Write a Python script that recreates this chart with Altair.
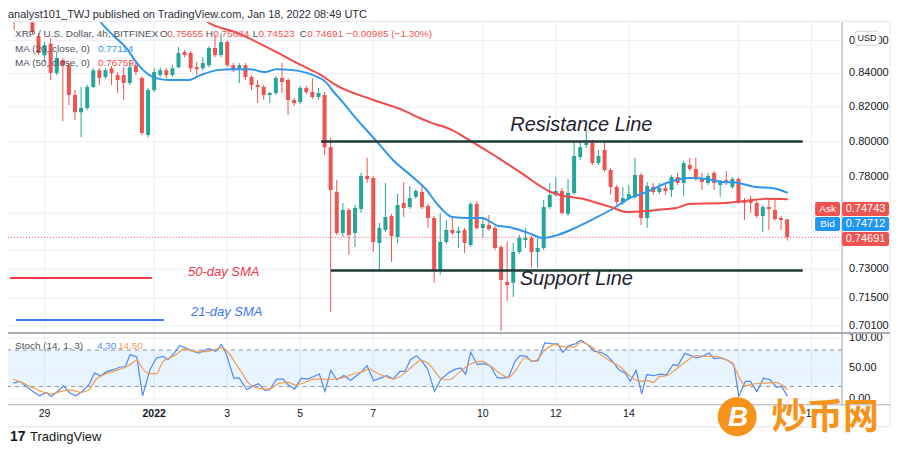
import altair as alt
import pandas as pd

FONT = "Liberation Sans"
W = 835          # plot width (price pane and stoch pane)
H_MAIN = 311     # price pane height
H = 383          # both panes

UP = "#26a69a"
DOWN = "#ef5350"
GRID = "#eceff5"
BLUE_MA = "#2f96ee"
RED_MA = "#f24a4a"

# ---------------- data (4h candles, XRP/USD Bitfinex, first = Dec 28 04:00 UTC) --------------
opens = [0.8850, 0.8740, 0.8820, 0.8760, 0.8628, 0.8510, 0.8580, 0.8402, 0.8481, 0.8450,
         0.8271, 0.8170, 0.8194, 0.8319, 0.8420, 0.8378, 0.8432, 0.8390, 0.8390, 0.8342,
         0.8450, 0.8372, 0.8037, 0.8301, 0.8390, 0.8420, 0.8390, 0.8438, 0.8530, 0.8524,
         0.8438, 0.8432, 0.8450, 0.8554, 0.8512, 0.8591, 0.8450, 0.8432, 0.8450, 0.8378,
         0.8331, 0.8319, 0.8271, 0.8283, 0.8372, 0.8360, 0.8242, 0.8230, 0.8313, 0.8289,
         0.8259, 0.8271, 0.7968, 0.7716, 0.7493, 0.7617, 0.7493, 0.7622, 0.7805, 0.7794,
         0.7439, 0.7509, 0.7585, 0.7471, 0.7655, 0.7634, 0.7689, 0.7716, 0.7639, 0.7574,
         0.7297, 0.7444, 0.7509, 0.7493, 0.7509, 0.7429, 0.7650, 0.7520, 0.7536, 0.7520,
         0.7418, 0.7235, 0.7230, 0.7391, 0.7455, 0.7466, 0.7391, 0.7413, 0.7634, 0.7700,
         0.7722, 0.7596, 0.7711, 0.7912, 0.7980, 0.7991, 0.7878, 0.7951, 0.7838, 0.7744,
         0.7655, 0.7678, 0.7689, 0.7810, 0.7574, 0.7744, 0.7716, 0.7738, 0.7727, 0.7799,
         0.7766, 0.7866, 0.7844, 0.7788, 0.7766, 0.7822, 0.7755, 0.7783, 0.7744, 0.7788,
         0.7672, 0.7666, 0.7655, 0.7585, 0.7634, 0.7617, 0.7574, 0.75655]
highs = [0.8890, 0.8860, 0.8840, 0.8790, 0.8646, 0.8591, 0.8615, 0.8530, 0.8493, 0.8463,
         0.8301, 0.8319, 0.8331, 0.8432, 0.8432, 0.8432, 0.8444, 0.8408, 0.8438, 0.8481,
         0.8469, 0.8384, 0.8313, 0.8432, 0.8438, 0.8432, 0.8450, 0.8560, 0.8542, 0.8536,
         0.8469, 0.8499, 0.8566, 0.8634, 0.8646, 0.8603, 0.8463, 0.8463, 0.8463, 0.8390,
         0.8360, 0.8331, 0.8289, 0.8384, 0.8463, 0.8372, 0.8254, 0.8325, 0.8325, 0.8372,
         0.8313, 0.8289, 0.8020, 0.7783, 0.7655, 0.7628, 0.7645, 0.7822, 0.7907, 0.7805,
         0.7547, 0.7766, 0.7596, 0.7705, 0.7772, 0.7749, 0.7732, 0.7760, 0.7650, 0.7585,
         0.7601, 0.7563, 0.7574, 0.7525, 0.7520, 0.7661, 0.7666, 0.7574, 0.7590, 0.7530,
         0.7429, 0.7445, 0.7439, 0.7482, 0.7520, 0.7477, 0.7466, 0.7672, 0.7766, 0.7799,
         0.7738, 0.7788, 0.7997, 0.8003, 0.8066, 0.8009, 0.7951, 0.8003, 0.7850, 0.7755,
         0.7744, 0.7755, 0.7907, 0.7822, 0.7772, 0.7766, 0.7766, 0.7766, 0.7810, 0.7822,
         0.7890, 0.7907, 0.7907, 0.7822, 0.7822, 0.7833, 0.7783, 0.7833, 0.7799, 0.7799,
         0.7683, 0.7694, 0.7666, 0.7645, 0.7683, 0.7683, 0.7585, 0.75684]
lows = [0.8665, 0.8710, 0.8720, 0.8640, 0.8512, 0.8469, 0.8360, 0.8390, 0.8118, 0.8212,
        0.8124, 0.8026, 0.8182, 0.8313, 0.8331, 0.8366, 0.8331, 0.8283, 0.8242, 0.8331,
        0.8390, 0.8037, 0.8026, 0.8289, 0.8378, 0.8372, 0.8378, 0.8432, 0.8499, 0.8408,
        0.8390, 0.8420, 0.8438, 0.8499, 0.8499, 0.8438, 0.8408, 0.8342, 0.8360, 0.8301,
        0.8224, 0.8242, 0.8224, 0.8271, 0.8283, 0.8153, 0.8206, 0.8218, 0.8277, 0.8248,
        0.8242, 0.7923, 0.7081, 0.7482, 0.7471, 0.7376, 0.7418, 0.7601, 0.7766, 0.7391,
        0.7287, 0.7498, 0.7339, 0.7439, 0.7579, 0.7622, 0.7678, 0.7622, 0.7520, 0.7230,
        0.7271, 0.7434, 0.7482, 0.7413, 0.7386, 0.7418, 0.7509, 0.7471, 0.7504, 0.7402,
        0.6985, 0.7137, 0.7157, 0.7381, 0.7413, 0.7308, 0.7308, 0.7402, 0.7622, 0.7689,
        0.7590, 0.7585, 0.7700, 0.7895, 0.7963, 0.7866, 0.7866, 0.7827, 0.7700, 0.7645,
        0.7645, 0.7672, 0.7678, 0.7536, 0.7520, 0.7700, 0.7705, 0.7700, 0.7689, 0.7755,
        0.7694, 0.7833, 0.7777, 0.7727, 0.7755, 0.7727, 0.7689, 0.7755, 0.7733, 0.7650,
        0.7563, 0.7601, 0.7574, 0.7498, 0.7509, 0.7558, 0.7509, 0.74523]
closes = [0.8740, 0.8820, 0.8760, 0.8653, 0.8524, 0.8572, 0.8402, 0.8493, 0.8450, 0.8271,
          0.8170, 0.8194, 0.8319, 0.8420, 0.8372, 0.8420, 0.8402, 0.8360, 0.8342, 0.8438,
          0.8408, 0.8049, 0.8301, 0.8408, 0.8420, 0.8390, 0.8432, 0.8524, 0.8512, 0.8432,
          0.8426, 0.8463, 0.8554, 0.8512, 0.8591, 0.8450, 0.8420, 0.8450, 0.8378, 0.8331,
          0.8319, 0.8271, 0.8283, 0.8372, 0.8348, 0.8242, 0.8224, 0.8313, 0.8289, 0.8259,
          0.8283, 0.7968, 0.7727, 0.7493, 0.7617, 0.7482, 0.7628, 0.7805, 0.7788, 0.7444,
          0.7520, 0.7579, 0.7477, 0.7645, 0.7628, 0.7683, 0.7722, 0.7634, 0.7574, 0.7297,
          0.7444, 0.7509, 0.7493, 0.7504, 0.7439, 0.7650, 0.7520, 0.7541, 0.7514, 0.7413,
          0.7245, 0.7219, 0.7391, 0.7466, 0.7466, 0.7391, 0.7413, 0.7634, 0.7700, 0.7722,
          0.7601, 0.7711, 0.7918, 0.7968, 0.7991, 0.7878, 0.7918, 0.7838, 0.7744, 0.7661,
          0.7683, 0.7705, 0.7810, 0.7574, 0.7749, 0.7716, 0.7738, 0.7722, 0.7799, 0.7766,
          0.7878, 0.7844, 0.7788, 0.7772, 0.7805, 0.7766, 0.7772, 0.7766, 0.7788, 0.7661,
          0.7655, 0.7655, 0.7585, 0.7634, 0.7623, 0.7568, 0.7563, 0.74691]

# moving averages: (days since Dec 29 00:00, value)
ma20 = [(1.30, 0.8800), (1.54, 0.8714), (1.89, 0.8630), (2.24, 0.8554), (2.51, 0.8468),
        (2.70, 0.8420), (3.05, 0.8372), (3.43, 0.8360), (3.92, 0.8360), (4.27, 0.8390),
        (4.73, 0.8420), (5.19, 0.8426), (5.62, 0.8426), (6.03, 0.8408), (6.35, 0.8426),
        (6.81, 0.8420), (7.35, 0.8390), (7.70, 0.8348), (7.92, 0.8289), (8.11, 0.8242),
        (8.57, 0.8124), (9.11, 0.7997), (9.54, 0.7895), (10.08, 0.7799), (10.46, 0.7727),
        (10.73, 0.7655), (11.16, 0.7579), (11.62, 0.7574), (11.97, 0.7574), (12.43, 0.7530),
        (12.70, 0.7525), (13.24, 0.7493), (13.65, 0.7466), (14.05, 0.7482), (14.59, 0.7525),
        (15.14, 0.7579), (15.59, 0.7628), (16.03, 0.7683), (16.49, 0.7716), (17.03, 0.7766),
        (17.65, 0.7794), (18.11, 0.7788), (18.57, 0.7772), (19.00, 0.7766), (19.46, 0.7744),
        (19.92, 0.7738), (20.35, 0.77114)]
ma50 = [(4.00, 0.8800), (4.51, 0.8708), (5.22, 0.8652), (6.14, 0.8554), (7.03, 0.8450),
        (7.57, 0.8390), (7.97, 0.8331), (9.00, 0.8242), (9.81, 0.8182), (10.27, 0.8136),
        (10.54, 0.8112), (11.16, 0.8066), (11.62, 0.8009), (12.08, 0.7951), (12.43, 0.7906),
        (13.05, 0.7822), (13.86, 0.7716), (14.86, 0.7672), (15.49, 0.7634), (15.95, 0.7606),
        (16.49, 0.7612), (17.03, 0.7623), (17.30, 0.7628), (17.65, 0.7650), (18.57, 0.7655),
        (19.19, 0.7666), (19.73, 0.7678), (20.35, 0.76759)]

stoch_k = [(-0.856, 25.8), (-0.676, 28.6), (-0.495, 20.3), (-0.315, 12.1), (-0.135, 4.9),
           (0.045, 10.4), (0.18, 3.8), (0.36, 12.1), (0.523, 21.4), (0.676, 10.4), (0.856, 4.9),
           (1.036, 12.1), (1.216, 23.1), (1.369, 42.3), (1.532, 37.9), (1.712, 45.0), (1.892, 47.8),
           (2.072, 52.2), (2.207, 52.2), (2.342, 72.5), (2.523, 68.6), (2.685, 4.9), (2.883, 47.8),
           (3.063, 67.0), (3.243, 69.7), (3.378, 64.3), (3.559, 75.2), (3.694, 87.3), (3.874, 83.5),
           (4.054, 78.0), (4.234, 75.2), (4.369, 79.6), (4.505, 82.4), (4.685, 78.0), (4.847, 89.0),
           (4.973, 74.1), (5.18, 34.0), (5.333, 34.0), (5.541, 14.8), (5.721, 21.4), (5.856, 24.7),
           (6.036, 13.7), (6.171, 14.8), (6.351, 32.4), (6.532, 32.4), (6.667, 23.1), (6.847, 15.9),
           (7.027, 34.0), (7.207, 32.4), (7.342, 35.7), (7.523, 40.6), (7.676, 12.1), (7.838, 46.7),
           (8.0, 31.3), (8.198, 38.4), (8.378, 30.2), (8.541, 37.9), (8.694, 45.0), (8.829, 54.4),
           (9.009, 29.7), (9.189, 34.0), (9.369, 37.9), (9.55, 32.4), (9.73, 45.0), (9.865, 45.0),
           (10.018, 64.3), (10.18, 70.8), (10.342, 61.5), (10.495, 47.8), (10.676, 12.1),
           (10.856, 32.4), (11.081, 43.4), (11.216, 47.8), (11.396, 50.5), (11.532, 40.6),
           (11.667, 76.3), (11.847, 56.0), (12.027, 57.7), (12.207, 54.4), (12.387, 35.1),
           (12.523, 34.0), (12.703, 35.1), (12.883, 61.5), (13.018, 70.8), (13.198, 69.7),
           (13.333, 61.5), (13.514, 62.6), (13.694, 91.7), (13.874, 90.6), (14.054, 90.1),
           (14.189, 76.3), (14.369, 87.3), (14.55, 90.6), (14.685, 96.1), (14.865, 89.0),
           (15.045, 78.0), (15.225, 76.3), (15.405, 70.8), (15.586, 58.8), (15.721, 47.8),
           (15.901, 42.3), (16.036, 28.6), (16.198, 46.7), (16.351, 8.2), (16.486, 39.5),
           (16.667, 37.9), (16.847, 40.6), (17.027, 39.5), (17.207, 56.0), (17.342, 54.4),
           (17.523, 74.1), (17.703, 70.8), (17.838, 67.0), (18.018, 69.7), (18.198, 75.2),
           (18.333, 65.9), (18.514, 67.0), (18.694, 63.2), (18.874, 56.0), (19.009, 3.8),
           (19.189, 28.6), (19.324, 28.6), (19.505, 12.1), (19.685, 34.0), (19.865, 31.3),
           (20.045, 19.2), (20.18, 20.3), (20.342, 4.3)]
stoch_d = [(-0.856, 32.4), (-0.631, 26.9), (-0.36, 19.2), (-0.09, 12.1), (0.18, 8.2), (0.45, 12.1),
           (0.721, 14.8), (0.991, 10.4), (1.216, 14.8), (1.396, 31.3), (1.622, 39.5), (1.892, 45.0),
           (2.162, 50.5), (2.342, 56.0), (2.523, 63.2), (2.703, 47.8), (2.883, 41.2), (3.063, 41.2),
           (3.243, 61.5), (3.423, 67.0), (3.604, 72.5), (3.829, 81.8), (4.054, 78.0), (4.324, 76.9),
           (4.595, 79.6), (4.865, 83.5), (5.045, 75.2), (5.225, 58.8), (5.405, 42.3), (5.586, 25.8),
           (5.766, 19.2), (6.036, 15.9), (6.216, 17.6), (6.441, 25.8), (6.667, 26.9), (6.847, 23.1),
           (7.027, 24.7), (7.207, 28.6), (7.387, 32.4), (7.568, 32.4), (7.748, 31.3), (7.928, 32.4),
           (8.198, 35.1), (8.468, 41.2), (8.739, 45.0), (8.874, 48.9), (9.099, 42.3), (9.369, 35.7),
           (9.55, 32.4), (9.865, 42.3), (10.09, 54.4), (10.315, 63.2), (10.541, 56.0),
           (10.721, 42.3), (10.901, 31.3), (11.081, 31.3), (11.351, 43.4), (11.622, 56.0),
           (11.982, 61.5), (12.252, 51.6), (12.523, 39.5), (12.703, 35.1), (12.883, 45.0),
           (13.153, 67.0), (13.423, 61.5), (13.694, 79.6), (13.964, 89.0), (14.234, 85.1),
           (14.505, 85.1), (14.685, 92.8), (14.955, 86.2), (15.225, 72.5), (15.495, 61.5),
           (15.766, 52.2), (16.036, 36.8), (16.306, 28.6), (16.486, 30.2), (16.667, 26.9),
           (16.847, 36.8), (17.027, 37.9), (17.297, 48.9), (17.568, 61.5), (17.838, 70.8),
           (18.108, 69.7), (18.378, 69.7), (18.649, 64.3), (18.829, 58.8), (19.009, 36.8),
           (19.189, 21.4), (19.459, 24.7), (19.73, 25.8), (20.0, 26.9), (20.18, 23.1), (20.342, 14.5)]

# axes / ticks
price_grid_values = [0.701, 0.715, 0.73, 0.74, 0.76, 0.78, 0.80, 0.82, 0.84, 0.86]
price_label_values = [0.701, 0.715, 0.73, 0.78, 0.80, 0.82, 0.84, 0.86]
time_tick_days = [0, 3, 5, 7, 9, 12, 14, 16, 19, 21]
time_tick_labels = ["29", "2022", "3", "5", "7", "10", "12", "14", "17", "19"]
stoch_ticks = [0, 50, 100]
stoch_tick_labels = ["0.00", "50.00", "100.00"]
resistance = 0.800
support = 0.7294
line_span = [(7.57, 20.76), (7.84, 20.76)]   # resistance, support (days)
ask, bid = 0.74743, 0.74712

# ---------------- scales ----------------
xs = alt.Scale(domain=[-0.865, 21.70], nice=False, zero=False)
ps = alt.Scale(type="log", domain=[0.6975, 0.8714], range=[H_MAIN, 0], nice=False)
ss = alt.Scale(domain=[-9.84, 108.2], range=[H, H_MAIN], nice=False, zero=False)


def X(f):
    return alt.X(f, type="quantitative", scale=xs, axis=None)


def PY(f):
    return alt.Y(f, type="quantitative", scale=ps, axis=None)


def SY(f):
    return alt.Y(f, type="quantitative", scale=ss, axis=None)


one = alt.Data(values=[{"a": 1}])


def txt(s, x, y, color="#131722", size=10, weight="normal", style="normal",
        align="left", font=FONT):
    return alt.Chart(one).mark_text(text=s, align=align, baseline="middle", fontSize=size,
                                    fontWeight=weight, fontStyle=style, color=color,
                                    font=font).encode(x=alt.value(x), y=alt.value(y))


def box(x, x2, y, y2, fill, stroke=None, radius=0):
    kw = dict(fill=fill, cornerRadius=radius)
    if stroke:
        kw["stroke"] = stroke
        kw["strokeWidth"] = 1
    return alt.Chart(one).mark_rect(**kw).encode(
        x=alt.value(x), x2=alt.value(x2), y=alt.value(y), y2=alt.value(y2))


def line(x, x2, y, y2, color, width=1, dash=None):
    kw = dict(color=color, strokeWidth=width)
    if dash:
        kw["strokeDash"] = dash
    return alt.Chart(one).mark_rule(**kw).encode(
        x=alt.value(x), x2=alt.value(x2), y=alt.value(y), y2=alt.value(y2))


# ---------------- price pane ----------------
n = len(opens)
candles = pd.DataFrame({
    "day": [k / 6 - 5 / 6 for k in range(n)],
    "open": opens, "high": highs, "low": lows, "close": closes,
})
candles["dir"] = ["up" if c >= o else "down" for o, c in zip(opens, closes)]
dir_color = alt.Color("dir:N", scale=alt.Scale(domain=["up", "down"], range=[UP, DOWN]), legend=None)

price_grid = alt.Chart(pd.DataFrame({"p": price_grid_values})).mark_rule(
    color=GRID, strokeWidth=1).encode(y=PY("p"))
time_grid = alt.Chart(pd.DataFrame({"d": time_tick_days})).mark_rule(
    color=GRID, strokeWidth=1).encode(x=X("d"))
close_line = alt.Chart(pd.DataFrame({"p": [closes[-1]]})).mark_rule(
    color=DOWN, strokeDash=[1, 2], strokeWidth=1).encode(y=PY("p"))
wicks = alt.Chart(candles).mark_rule(strokeWidth=1, clip=True).encode(
    x=X("day"), y=PY("low"), y2="high", color=dir_color)
bodies = alt.Chart(candles).mark_bar(size=4, clip=True).encode(
    x=X("day"), y=PY("open"), y2="close", color=dir_color)
ma20_line = alt.Chart(pd.DataFrame(ma20, columns=["d", "v"])).mark_line(
    color=BLUE_MA, strokeWidth=2, clip=True, interpolate="monotone").encode(x=X("d"), y=PY("v"))
ma50_line = alt.Chart(pd.DataFrame(ma50, columns=["d", "v"])).mark_line(
    color=RED_MA, strokeWidth=2, clip=True, interpolate="monotone").encode(x=X("d"), y=PY("v"))
sr = alt.Chart(pd.DataFrame({
    "a": [s[0] for s in line_span], "b": [s[1] for s in line_span], "p": [resistance, support]
})).mark_rule(color="#1f3b36", strokeWidth=2.5).encode(x=X("a"), x2="b", y=PY("p"))
price_labels = alt.Chart(pd.DataFrame({
    "p": price_label_values, "t": [f"{v:.5f}" for v in price_label_values]
})).mark_text(align="left", baseline="middle", fontSize=11, font=FONT, color="#131722").encode(
    x=alt.value(842), y=PY("p"), text="t:N")

tl = pd.DataFrame({"d": time_tick_days, "t": time_tick_labels})
time_labels = alt.Chart(tl).transform_filter("datum.t != '2022'").mark_text(
    align="center", baseline="middle", fontSize=10.5, font=FONT, color="#131722").encode(
    x=X("d"), y=alt.value(392), text="t:N")
time_labels_b = alt.Chart(tl).transform_filter("datum.t == '2022'").mark_text(
    align="center", baseline="middle", fontSize=10.5, font=FONT, fontWeight="bold",
    color="#131722").encode(x=X("d"), y=alt.value(392), text="t:N")

price_layer = alt.layer(price_grid, time_grid, close_line, wicks, bodies, ma20_line, ma50_line,
                        sr, price_labels, time_labels, time_labels_b)

# ---------------- stochastic pane ----------------
band = alt.Chart(pd.DataFrame({"lo": [20], "hi": [80]})).mark_rect(
    fill="#2196f3", opacity=0.1).encode(x=alt.value(0), x2=alt.value(W), y=SY("lo"), y2="hi")
s_grid = alt.Chart(pd.DataFrame({"v": stoch_ticks})).mark_rule(color=GRID).encode(y=SY("v"))
s_dash = alt.Chart(pd.DataFrame({"v": [20, 80]})).mark_rule(
    color="#8f929c", strokeDash=[4, 4], strokeWidth=1).encode(y=SY("v"))
k_line = alt.Chart(pd.DataFrame(stoch_k, columns=["d", "v"])).mark_line(
    color="#5087f5", strokeWidth=1.2, clip=True).encode(x=X("d"), y=SY("v"))
d_line = alt.Chart(pd.DataFrame(stoch_d, columns=["d", "v"])).mark_line(
    color="#f39c4f", strokeWidth=1.2, clip=True, interpolate="monotone").encode(x=X("d"), y=SY("v"))
s_labels = alt.Chart(pd.DataFrame({"v": stoch_ticks, "t": stoch_tick_labels})).mark_text(
    align="left", baseline="middle", fontSize=11, font=FONT, color="#131722").encode(
    x=alt.value(842), y=SY("v"), text="t:N")
stoch_layer = alt.layer(band, s_grid, s_dash, k_line, d_line, s_labels)

# ---------------- annotations / chrome ----------------
LG = "#50535e"
annots = [
    # frame and separators
    box(-1, 883, -1, 405, "transparent", stroke="#e0e3eb"),
    line(835, 835, 0, 383, "#a3a6af", 1),
    line(0, 883, 311, 311, "#a9acb5", 2),
    line(0, 883, 383, 383, "#a9acb5", 1),
    # title
    txt("analyst101_TWJ published on TradingView.com, Jan 18, 2022 08:49 UTC", 0, -7.5,
        color="#2a2e39", size=11),
    # legend rows
    txt("XRP / U.S. Dollar, 4h, BITFINEX", 7, 12, color=LG),
    txt("O", 152, 12, color=LG), txt("0.75655", 159.5, 12, color=DOWN),
    txt("H", 198, 12, color=LG), txt("0.75684", 205.5, 12, color=DOWN),
    txt("L", 245, 12, color=LG), txt("0.74523", 250.8, 12, color=DOWN),
    txt("C", 292, 12, color=LG), txt("0.74691", 299.5, 12, color=DOWN),
    txt("\u22120.00985 (\u22121.30%)", 339, 12, color=DOWN),
    txt("MA (20, close, 0)", 7, 27, color=LG), txt("0.77114", 90, 27, color=BLUE_MA),
    txt("MA (50, close, 0)", 7, 41, color=LG), txt("0.76759", 90, 41, color=RED_MA),
    # drawings
    txt("Resistance Line", 574, 103, color="#1e222d", size=20, style="italic", align="center"),
    txt("Support Line", 569, 257, color="#1e222d", size=20, style="italic", align="center"),
    line(2, 144, 256, 256, "#f23645", 2),
    txt("50-day SMA", 216, 250, color="#f23645", size=13, style="italic", align="center"),
    line(8, 156, 298, 298, "#3b78f0", 2),
    txt("21-day SMA", 219, 290, color="#3b78f0", size=13, style="italic", align="center"),
    # price scale badges
    box(848, 872, 9, 23, "#ffffff", stroke="#d1d4dc", radius=3),
    txt("USD", 860, 16, size=9, align="center"),
    box(808, 833, 180, 194, DOWN, radius=2), txt("Ask", 820.5, 187, color="white", align="center"),
    box(835, 882, 180, 194, DOWN, radius=2),
    txt(f"{ask:.5f}", 858.5, 187, color="white", size=11, align="center"),
    box(808, 833, 195, 209, "#2196f3", radius=2), txt("Bid", 820.5, 202, color="white", align="center"),
    box(835, 882, 195, 209, "#2196f3", radius=2),
    txt(f"{bid:.5f}", 858.5, 202, color="white", size=11, align="center"),
    box(835, 882, 210, 224, DOWN, radius=2),
    txt(f"{closes[-1]:.5f}", 858.5, 217, color="white", size=11, align="center"),
    # stoch legend
    txt("Stoch (14, 1, 3)", 7, 324, color=LG),
    txt("4.30", 89, 324, color="#5087f5"),
    txt("14.50", 110, 324, color="#f39c4f"),
    # TradingView logo
    txt("17", 2, 415, color="#131722", size=14, weight="bold"),
    txt("TradingView", 22, 415, color="#131722", size=13),
    # watermark (covers part of the time scale, as in the original)
    alt.Chart(one).mark_circle(size=1520, color="#f7931a", opacity=1).encode(
        x=alt.value(730), y=alt.value(395)),
    txt("B", 731, 396, color="white", size=28, weight="bold", style="italic", align="center"),
    txt("炒币网", 764, 396, color="#f7931a", size=36, weight="bold", font="Noto Sans CJK SC"),
]
annot_layer = alt.layer(*annots)

chart = alt.layer(price_layer, stoch_layer, annot_layer).resolve_scale(
    y="independent"
).properties(
    width=W, height=H,
    autosize=alt.AutoSizeParams(type="none"),
    padding={"left": 0, "top": 14, "right": 50, "bottom": 41},
).configure_view(stroke=None)

chart.save("out.html", embed_options={"renderer": "svg", "actions": False})
